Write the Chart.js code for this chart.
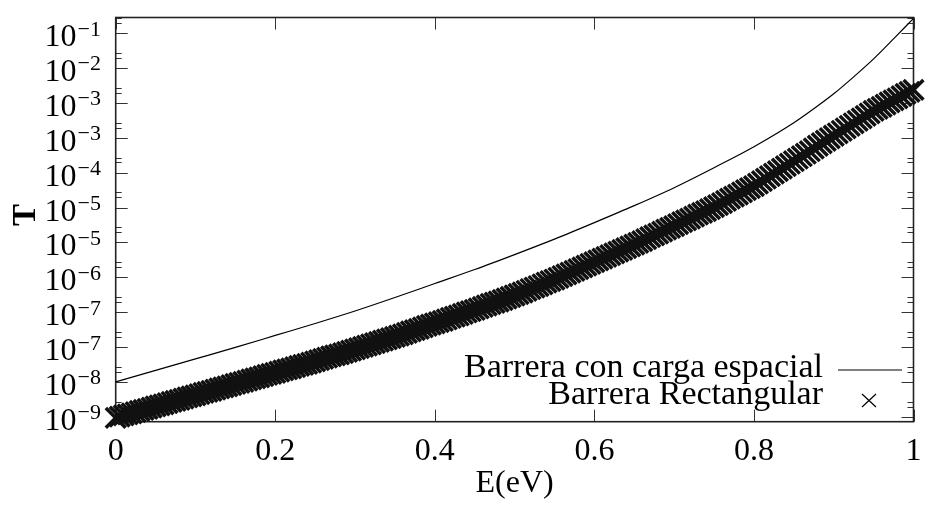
<!DOCTYPE html>
<html><head><meta charset="utf-8">
<script src="https://cdn.jsdelivr.net/npm/chart.js@4.4.1/dist/chart.umd.min.js"></script>
<style>html,body{margin:0;padding:0;background:#fff;}#wrap{width:931px;height:506px;}</style>
</head><body><div id="wrap"><canvas id="c" width="931" height="506"></canvas></div>
<script>
// ---- data (T values stored as log10 T) ----
const lineE = [0,0.05,0.10,0.15,0.20,0.25,0.30,0.35,0.40,0.45,0.50,0.55,0.60,0.65,0.70,0.75,0.80,0.85,0.875,0.90,0.925,0.95,0.975,1.0];
const lineLog10T = [-7.60,-7.37,-7.14,-6.91,-6.67,-6.43,-6.18,-5.91,-5.63,-5.35,-5.05,-4.74,-4.41,-4.07,-3.71,-3.31,-2.89,-2.41,-2.13,-1.83,-1.49,-1.13,-0.73,-0.32];

const rectE = [0,0.005,0.01,0.015,0.02,0.025,0.03,0.035,0.04,0.045,0.05,0.055,0.06,0.065,0.07,0.075,0.08,0.085,0.09,0.095,
0.10,0.105,0.11,0.115,0.12,0.125,0.13,0.135,0.14,0.145,0.15,0.155,0.16,0.165,0.17,0.175,0.18,0.185,0.19,0.195,
0.20,0.205,0.21,0.215,0.22,0.225,0.23,0.235,0.24,0.245,0.25,0.255,0.26,0.265,0.27,0.275,0.28,0.285,0.29,0.295,
0.30,0.305,0.31,0.315,0.32,0.325,0.33,0.335,0.34,0.345,0.35,0.355,0.36,0.365,0.37,0.375,0.38,0.385,0.39,0.395,
0.40,0.405,0.41,0.415,0.42,0.425,0.43,0.435,0.44,0.445,0.45,0.455,0.46,0.465,0.47,0.475,0.48,0.485,0.49,0.495,
0.50,0.505,0.51,0.515,0.52,0.525,0.53,0.535,0.54,0.545,0.55,0.555,0.56,0.565,0.57,0.575,0.58,0.585,0.59,0.595,
0.60,0.605,0.61,0.615,0.62,0.625,0.63,0.635,0.64,0.645,0.65,0.655,0.66,0.665,0.67,0.675,0.68,0.685,0.69,0.695,
0.70,0.705,0.71,0.715,0.72,0.725,0.73,0.735,0.74,0.745,0.75,0.755,0.76,0.765,0.77,0.775,0.78,0.785,0.79,0.795,
0.80,0.805,0.81,0.815,0.82,0.825,0.83,0.835,0.84,0.845,0.85,0.855,0.86,0.865,0.87,0.875,0.88,0.885,0.89,0.895,
0.90,0.905,0.91,0.915,0.92,0.925,0.93,0.935,0.94,0.945,0.95,0.955,0.96,0.965,0.97,0.975,0.98,0.985,0.99,0.995,1.00];
const rectLog10T = [-8.32,-8.295,-8.27,-8.25,-8.23,-8.205,-8.18,-8.16,-8.14,-8.115,-8.09,-8.07,-8.05,-8.025,-8.00,-7.98,-7.96,-7.935,-7.91,-7.89,
-7.87,-7.845,-7.82,-7.80,-7.78,-7.755,-7.73,-7.71,-7.69,-7.665,-7.64,-7.62,-7.60,-7.575,-7.55,-7.53,-7.51,-7.485,-7.46,-7.44,
-7.42,-7.395,-7.37,-7.35,-7.33,-7.305,-7.28,-7.26,-7.24,-7.215,-7.19,-7.165,-7.14,-7.115,-7.09,-7.07,-7.05,-7.025,-7.00,-6.975,
-6.95,-6.925,-6.90,-6.875,-6.85,-6.825,-6.80,-6.775,-6.75,-6.725,-6.70,-6.675,-6.65,-6.62,-6.59,-6.565,-6.54,-6.51,-6.48,-6.455,
-6.43,-6.405,-6.38,-6.35,-6.32,-6.295,-6.27,-6.24,-6.21,-6.185,-6.16,-6.13,-6.10,-6.07,-6.04,-6.015,-5.99,-5.96,-5.93,-5.90,
-5.87,-5.84,-5.81,-5.775,-5.74,-5.71,-5.68,-5.645,-5.61,-5.58,-5.55,-5.515,-5.48,-5.445,-5.41,-5.375,-5.34,-5.305,-5.27,-5.235,
-5.20,-5.165,-5.13,-5.095,-5.06,-5.025,-4.99,-4.955,-4.92,-4.885,-4.85,-4.815,-4.78,-4.74,-4.70,-4.665,-4.63,-4.59,-4.55,-4.515,
-4.48,-4.44,-4.40,-4.365,-4.33,-4.29,-4.25,-4.215,-4.18,-4.14,-4.10,-4.06,-4.02,-3.975,-3.93,-3.89,-3.85,-3.805,-3.76,-3.72,
-3.68,-3.63,-3.58,-3.53,-3.48,-3.43,-3.38,-3.33,-3.28,-3.23,-3.18,-3.13,-3.08,-3.03,-2.98,-2.925,-2.87,-2.82,-2.77,-2.72,
-2.67,-2.62,-2.57,-2.52,-2.47,-2.42,-2.37,-2.32,-2.27,-2.22,-2.17,-2.13,-2.09,-2.045,-2.00,-1.96,-1.92,-1.875,-1.83,-1.79,-1.75];

const seriesNames = ["Barrera con carga espacial", "Barrera Rectangular"];

const xTicks = [0,0.2,0.4,0.6,0.8,1];
const xTickLabels = ["0","0.2","0.4","0.6","0.8","1"];
const yTicks = [5e-9,2.5e-8,1.25e-7,6.25e-7,3.125e-6,1.5625e-5,7.8125e-5,3.90625e-4,1.953125e-3,9.765625e-3,4.8828125e-2,0.244140625];
const yTickExponents = ["\u22129","\u22128","\u22127","\u22127","\u22126","\u22125","\u22125","\u22124","\u22123","\u22123","\u22122","\u22121"];
const yMinorTicks = [8e-9,1e-8,4e-8,5e-8,2e-7,2.5e-7,1e-6,1.25e-6,5e-6,6.25e-6,2.5e-5,3.125e-5,1.25e-4,1.5625e-4,6.25e-4,7.8125e-4,3.125e-3,3.90625e-3,1.5625e-2,1.953125e-2,7.8125e-2,9.765625e-2,0.390625,0.48828125];
const xTitle = "E(eV)";
const yTitle = "T";

const FONT = '"Liberation Serif", "DejaVu Serif", serif';

const linePts = lineE.map((e, i) => ({x: e, y: Math.pow(10, lineLog10T[i])}));
const rectPts = rectE.map((e, i) => ({x: e, y: Math.pow(10, rectLog10T[i])}));

const framePlugin = {
  id: 'frame',
  beforeDatasetsDraw(chart) {
    const {ctx, chartArea: a, scales: {x, y}} = chart;
    ctx.save();
    ctx.strokeStyle = '#333';
    ctx.lineWidth = 1;
    ctx.beginPath();
    xTicks.forEach(v => {
      const px = Math.round(x.getPixelForValue(v)) + 0.5;
      ctx.moveTo(px, a.bottom); ctx.lineTo(px, a.bottom - 12);
      ctx.moveTo(px, a.top); ctx.lineTo(px, a.top + 12);
    });
    yTicks.forEach(v => {
      const py = Math.round(y.getPixelForValue(v)) + 0.5;
      ctx.moveTo(a.left, py); ctx.lineTo(a.left + 12, py);
      ctx.moveTo(a.right, py); ctx.lineTo(a.right - 12, py);
    });
    yMinorTicks.forEach(v => {
      const py = Math.round(y.getPixelForValue(v)) + 0.5;
      if (py < a.top + 1) return;
      ctx.moveTo(a.left, py); ctx.lineTo(a.left + 6, py);
      ctx.moveTo(a.right, py); ctx.lineTo(a.right - 6, py);
    });
    ctx.stroke();
    ctx.strokeStyle = '#222';
    ctx.lineWidth = 1.6;
    ctx.strokeRect(a.left, a.top, a.right - a.left, a.bottom - a.top);
    ctx.restore();
  },
  afterDraw(chart) {
    const {ctx, chartArea: a, scales: {x, y}} = chart;
    ctx.save();
    ctx.fillStyle = '#000';
    // x tick labels
    ctx.font = '32px ' + FONT;
    ctx.textAlign = 'center';
    ctx.textBaseline = 'alphabetic';
    xTicks.forEach((v, i) => {
      ctx.fillText(xTickLabels[i], x.getPixelForValue(v), 460);
    });
    // y tick labels 10^{e}
    yTicks.forEach((v, i) => {
      const py = y.getPixelForValue(v);
      ctx.font = '22px ' + FONT;
      ctx.textAlign = 'right';
      const ew = ctx.measureText(yTickExponents[i]).width;
      ctx.fillText(yTickExponents[i], 101, py + 2.5);
      ctx.font = '32px ' + FONT;
      ctx.fillText('10', 101 - ew - 1, py + 13);
    });
    // x title
    ctx.font = '32px ' + FONT;
    ctx.textAlign = 'center';
    ctx.fillText(xTitle, (a.left + a.right) / 2, 492);
    // y title
    ctx.save();
    ctx.translate(35, 215);
    ctx.rotate(-Math.PI / 2);
    ctx.font = 'bold 33px ' + FONT;
    ctx.textAlign = 'center';
    ctx.fillText(yTitle, 0, 0);
    ctx.restore();
    // legend
    ctx.font = '34px ' + FONT;
    ctx.textAlign = 'right';
    ctx.fillText(seriesNames[0], 823, 377);
    ctx.fillText(seriesNames[1], 823, 404);
    ctx.strokeStyle = '#000';
    ctx.lineWidth = 1.2;
    ctx.beginPath();
    ctx.moveTo(838, 370); ctx.lineTo(902, 370);
    ctx.moveTo(862, 394); ctx.lineTo(876, 407);
    ctx.moveTo(876, 394); ctx.lineTo(862, 407);
    ctx.stroke();
    ctx.restore();
  }
};

new Chart(document.getElementById('c').getContext('2d'), {
  type: 'line',
  data: {
    datasets: [
      {label: seriesNames[0], data: linePts, borderColor: '#000', borderWidth: 1.2, pointRadius: 0, tension: 0.3, cubicInterpolationMode: 'monotone', fill: false},
      {label: seriesNames[1], data: rectPts, showLine: false, pointStyle: 'crossRot', pointRadius: 14, borderColor: '#111', pointBorderWidth: 3.5, pointBorderColor: '#111', backgroundColor: '#111', clip: false}
    ]
  },
  options: {
    responsive: false,
    animation: false,
    devicePixelRatio: 1,
    events: [],
    layout: {padding: {left: 115.7, right: 4.3, top: 9.3, bottom: 84.3}},
    plugins: {legend: {display: false}, tooltip: {enabled: false}},
    scales: {
      x: {type: 'linear', min: 0, max: 1, display: false},
      y: {type: 'logarithmic', min: 4e-9, max: 0.5, display: false, bounds: 'data'}
    }
  },
  plugins: [framePlugin]
});
</script>
</body></html>
